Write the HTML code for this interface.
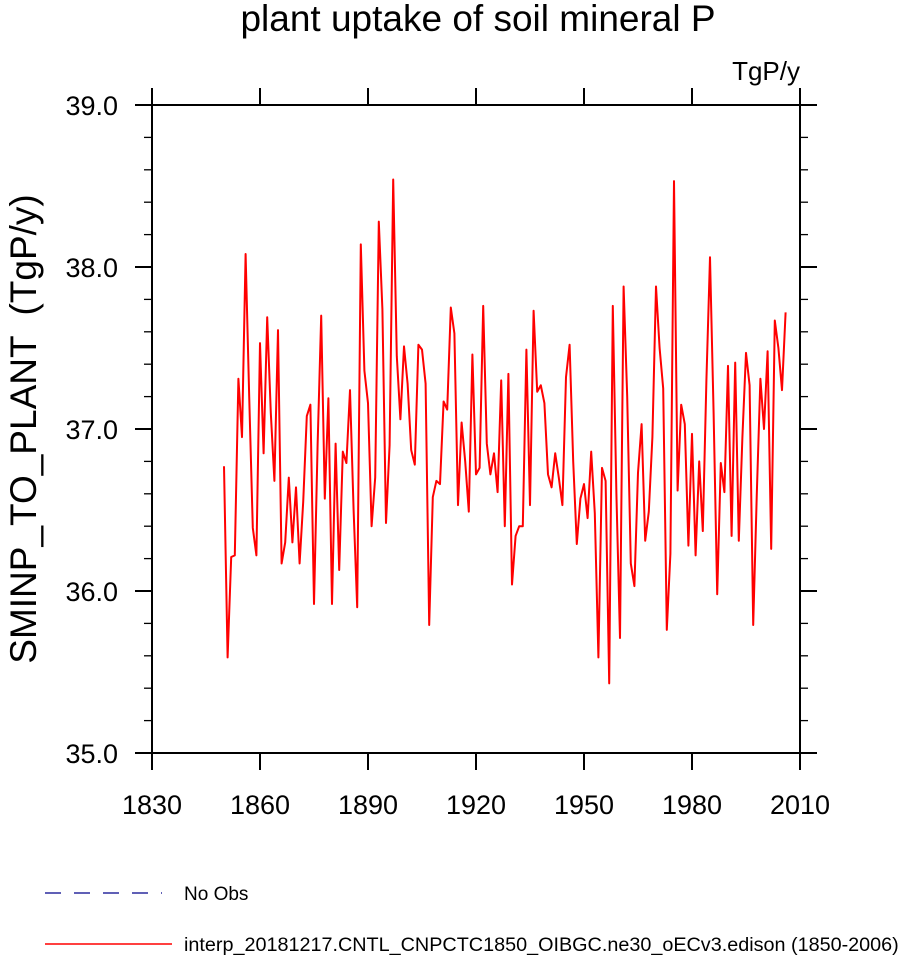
<!DOCTYPE html>
<html><head><meta charset="utf-8"><style>
html,body{margin:0;padding:0;background:#fff;}
svg{display:block;font-family:"Liberation Sans",Arial,sans-serif;}
</style></head><body>
<svg id="chart" width="899" height="957" viewBox="0 0 899 957">
<text x="478" y="31" font-size="37" text-anchor="middle">plant uptake of soil mineral P</text>
<text x="800" y="80" font-size="26" text-anchor="end">TgP/y</text>
<text transform="translate(36,429) rotate(-90)" font-size="37" text-anchor="middle" xml:space="preserve" style="white-space:pre">SMINP_TO_PLANT  (TgP/y)</text>
<g id="axes"></g>
<g id="series"></g>
<g>
<line x1="45" y1="893" x2="162" y2="893" stroke="#00008b" stroke-width="1.2" stroke-dasharray="16,13"/>
<text x="184" y="900" font-size="19">No Obs</text>
<line x1="45" y1="944" x2="172" y2="944" stroke="#ff0000" stroke-width="1.5"/>
<text x="184" y="951" font-size="19.8">interp_20181217.CNTL_CNPCTC1850_OIBGC.ne30_oECv3.edison (1850-2006)</text>
</g>
</svg>
<script>
const startYear = 1850;
const values = [
36.77,35.59,36.21,36.22,37.31,36.95,38.08,37.2,36.39,36.22,
37.53,36.85,37.69,37.1,36.68,37.61,36.17,36.30,36.70,36.30,
36.64,36.17,36.55,37.08,37.15,35.92,36.9,37.70,36.57,37.19,
35.92,36.91,36.13,36.86,36.79,37.24,36.5,35.90,38.14,37.36,
37.16,36.40,36.7,38.28,37.74,36.42,36.9,38.54,37.45,37.06,
37.51,37.28,36.87,36.78,37.52,37.49,37.28,35.79,36.58,36.68,
36.66,37.17,37.12,37.75,37.59,36.53,37.04,36.8,36.49,37.46,
36.72,36.76,37.76,36.91,36.72,36.85,36.61,37.30,36.40,37.34,
36.04,36.34,36.40,36.40,37.49,36.53,37.73,37.23,37.27,37.16,
36.72,36.64,36.85,36.7,36.53,37.32,37.52,36.8,36.29,36.57,
36.66,36.45,36.86,36.48,35.59,36.76,36.68,35.43,37.76,36.6,
35.71,37.88,37.2,36.17,36.03,36.73,37.03,36.31,36.49,36.95,
37.88,37.5,37.25,35.76,36.23,38.53,36.62,37.15,37.03,36.28,
36.97,36.22,36.80,36.37,37.3,38.06,37.1,35.98,36.79,36.61,
37.39,36.34,37.41,36.31,36.95,37.47,37.27,35.79,36.6,37.31,
37.00,37.48,36.26,37.67,37.5,37.24,37.72
];
const xTicks = [1830,1860,1890,1920,1950,1980,2010];
const yTicks = [35.0,36.0,37.0,38.0,39.0];
const L=152,R=800,T=105,B=753,xMin=1830,xMax=2010,yMin=35,yMax=39;
const xs = v => L + (v-xMin)/(xMax-xMin)*(R-L);
const ys = v => B - (v-yMin)/(yMax-yMin)*(B-T);
const NS="http://www.w3.org/2000/svg";
const axes=document.getElementById('axes');
function mk(tag,attrs,parent){const e=document.createElementNS(NS,tag);for(const k in attrs)e.setAttribute(k,attrs[k]);parent.appendChild(e);return e;}
const frame=mk('rect',{x:L,y:T,width:R-L,height:B-T,fill:'none',stroke:'#000','stroke-width':2},axes);


xTicks.forEach(t=>{
  const x=xs(t);
  const a=mk('line',{x1:x,y1:B,x2:x,y2:B+17,stroke:'#000','stroke-width':2},axes);
  
  
  const b=mk('line',{x1:x,y1:T,x2:x,y2:T-17,stroke:'#000','stroke-width':2},axes);
  
  
  const tx=mk('text',{x:x,y:814,'font-size':27,'text-anchor':'middle'},axes);
  tx.textContent=t;
  
  
});
for(let i=0;i<=20;i++){
  const v=yMin+i*0.2, y=ys(v), major=(i%5===0), len=major?17:8;
  const a=mk('line',{x1:L,y1:y,x2:L-len,y2:y,stroke:'#000','stroke-width':major?2:1.3},axes);
  
  
  const b=mk('line',{x1:R,y1:y,x2:R+len,y2:y,stroke:'#000','stroke-width':major?2:1.3},axes);
  
  
}
yTicks.forEach(t=>{
  const tx=mk('text',{x:118,y:ys(t)+10,'font-size':27,'text-anchor':'end'},axes);
  tx.textContent=t.toFixed(1);
  
  
});
const pts=values.map((v,i)=>xs(startYear+i).toFixed(2)+','+ys(v).toFixed(2)).join(' ');
const line=mk('polyline',{points:pts,fill:'none',stroke:'#ff0000','stroke-width':2,'stroke-linejoin':'round'},document.getElementById('series'));


</script>
</body></html>
